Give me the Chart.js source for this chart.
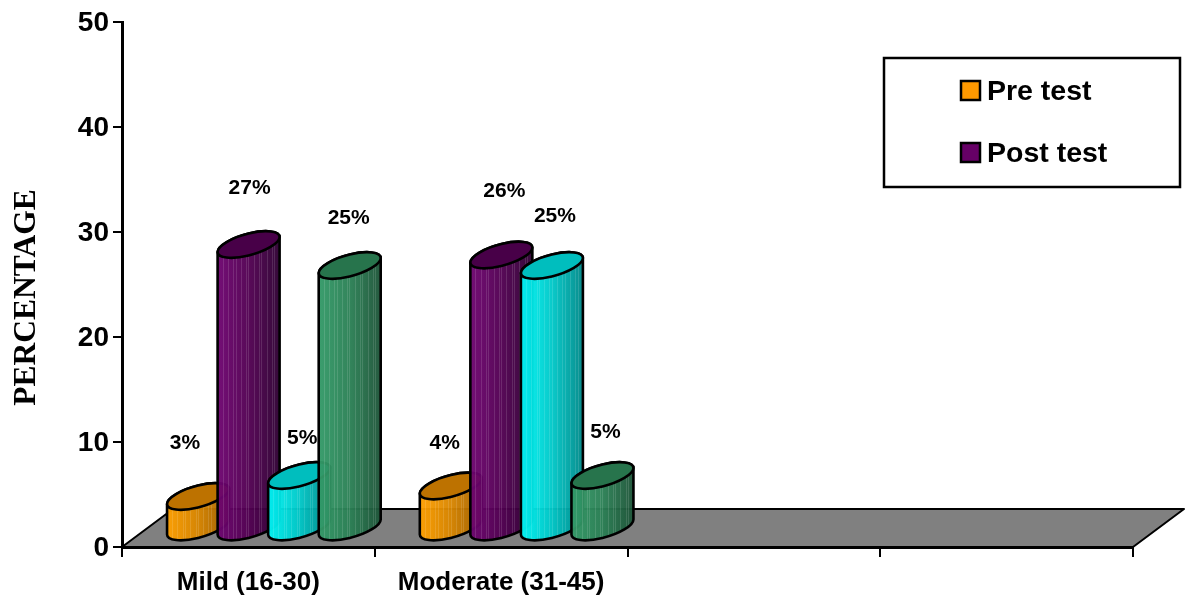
<!DOCTYPE html>
<html>
<head>
<meta charset="utf-8">
<title>Percentage by severity</title>
<script src="https://cdn.jsdelivr.net/npm/chart.js@4/dist/chart.umd.min.js"></script>
<style>
  html, body { margin: 0; padding: 0; background: #fff; }
  canvas { display: block; }
</style>
</head>
<body>
<canvas id="cylinderChart" width="1186" height="598"></canvas>
<script>
const categories = ["Mild (16-30)", "Moderate (31-45)", "", ""];
const preTest = [3, 4, null, null];
const postTest = [27, 26, null, null];
const thirdSeries = [5, 25, null, null];
const fourthSeries = [25, 5, null, null];
const legendNames = ["Pre test", "Post test"];
const yTicks = [0, 10, 20, 30, 40, 50];

const SANS = '"Liberation Sans", Arial, sans-serif';
const SERIF = '"Liberation Serif", "Times New Roman", serif';

// colours: wall left, wall middle, wall right, top cap
const palette = [
    { left: "#ffa000", mid: "#d98600", right: "#a06000", cap: "#bd7200" },
    { left: "#6e0470", mid: "#520052", right: "#2e0032", cap: "#480048" },
    { left: "#00f6f6", mid: "#00c8c8", right: "#008888", cap: "#00bebe" },
    { left: "#339a68", mid: "#2b8055", right: "#1d5438", cap: "#27744c" }
];

// floor depth, cylinders stand halfway back on it
const DEPTH_X = 51;
const DEPTH_Y = 38;
const RX = 31;
const RY = 11;
const SHEAR = -7.5 / 31;

// value label offsets from the centre of each cap, [dataset][category]
const labelNudge = [
    [[-13, -53], [-6, -43]],
    [[1, -56], [3, -64]],
    [[3, -37], [3, -49]],
    [[-1, -47], [3, -43]]
];

const capPath = (ctx, cx, cy) => {
    ctx.save();
    ctx.transform(1, SHEAR, 0, 1, cx, cy);
    ctx.beginPath();
    ctx.ellipse(0, 0, RX, RY, 0, 0, Math.PI * 2);
    ctx.restore();
};

const wallPath = (ctx, cx, top, bottom) => {
    ctx.save();
    ctx.beginPath();
    ctx.moveTo(cx - RX, top - SHEAR * RX);
    ctx.lineTo(cx - RX, bottom - SHEAR * RX);
    ctx.transform(1, SHEAR, 0, 1, cx, bottom);
    ctx.ellipse(0, 0, RX, RY, 0, Math.PI, 0, true);
    ctx.restore();
    ctx.lineTo(cx + RX, top + SHEAR * RX);
    ctx.save();
    ctx.transform(1, SHEAR, 0, 1, cx, top);
    ctx.ellipse(0, 0, RX, RY, 0, 0, Math.PI, true);
    ctx.restore();
    ctx.closePath();
};

const drawCylinder = (ctx, cx, top, bottom, colors) => {
    ctx.save();
    ctx.globalAlpha = 0.96;
    wallPath(ctx, cx, top, bottom);
    const grad = ctx.createLinearGradient(cx - RX, 0, cx + RX, 0);
    grad.addColorStop(0, colors.left);
    grad.addColorStop(0.5, colors.mid);
    grad.addColorStop(1, colors.right);
    ctx.fillStyle = grad;
    ctx.fill();

    // thin pale pinstripes on the wall
    ctx.save();
    ctx.clip();
    ctx.strokeStyle = "rgba(255,255,255,0.13)";
    ctx.lineWidth = 1;
    for (let i = 0; i < 14; i++) {
        const sx = Math.round(cx - RX + 5 + i * 4.3 + (i % 3)) + 0.5;
        ctx.beginPath();
        ctx.moveTo(sx, top - 20);
        ctx.lineTo(sx, bottom + 20);
        ctx.stroke();
    }
    ctx.restore();

    ctx.globalAlpha = 1;
    ctx.strokeStyle = "#000";
    ctx.lineWidth = 2.6;
    wallPath(ctx, cx, top, bottom);
    ctx.stroke();
    capPath(ctx, cx, top);
    ctx.fillStyle = colors.cap;
    ctx.fill();
    ctx.stroke();
    ctx.restore();
};

// grey slab behind the bars
const floorPlugin = {
    id: "floor",
    afterLayout(chart) {
        // sit the y tick numbers a little lower against their tick marks
        chart.scales.y.getLabelItems().forEach((item) => { item.options.translation[1] += 1.5; });
    },
    beforeDraw(chart) {
        const { ctx, chartArea: a } = chart;
        ctx.save();
        ctx.beginPath();
        ctx.moveTo(a.left, a.bottom);
        ctx.lineTo(a.left + DEPTH_X, a.bottom - DEPTH_Y);
        ctx.lineTo(a.right + DEPTH_X, a.bottom - DEPTH_Y);
        ctx.lineTo(a.right, a.bottom);
        ctx.closePath();
        ctx.fillStyle = "#808080";
        ctx.fill();
        ctx.strokeStyle = "#000";
        ctx.lineWidth = 2;
        ctx.lineJoin = "round";
        ctx.stroke();
        ctx.restore();
    }
};

// cylinders take their place from the bar elements, then the value labels go on top
const cylinderPlugin = {
    id: "cylinders",
    afterDatasetsDraw(chart) {
        const { ctx } = chart;
        categories.forEach((_, c) => {
            chart.data.datasets.forEach((ds, d) => {
                if (ds.data[c] == null) return;
                const bar = chart.getDatasetMeta(d).data[c];
                drawCylinder(ctx, bar.x + DEPTH_X / 2, bar.y - DEPTH_Y / 2, bar.base - DEPTH_Y / 2, palette[d]);
            });
        });
        ctx.save();
        ctx.fillStyle = "#000";
        ctx.font = `bold 21px ${SANS}`;
        ctx.textAlign = "center";
        ctx.textBaseline = "middle";
        categories.forEach((_, c) => {
            chart.data.datasets.forEach((ds, d) => {
                if (ds.data[c] == null) return;
                const bar = chart.getDatasetMeta(d).data[c];
                const [dx, dy] = labelNudge[d][c];
                ctx.fillText(`${ds.data[c]}%`, bar.x + DEPTH_X / 2 + dx, bar.y - DEPTH_Y / 2 + dy);
            });
        });
        ctx.restore();
    }
};

// boxed legend in the top right and the rotated axis title
const annotations = {
    id: "annotations",
    afterDraw(chart) {
        const { ctx } = chart;
        ctx.save();
        ctx.strokeStyle = "#000";
        ctx.lineWidth = 2.5;
        ctx.strokeRect(884, 58, 296, 129);
        ctx.font = `bold 28.5px ${SANS}`;
        ctx.textBaseline = "middle";
        ctx.textAlign = "left";
        legendNames.forEach((name, i) => {
            const y = 91 + i * 62;
            ctx.fillStyle = i === 0 ? "#ff9900" : "#660066";
            ctx.fillRect(961, y - 10, 19, 19);
            ctx.strokeRect(961, y - 10, 19, 19);
            ctx.fillStyle = "#000";
            ctx.fillText(name, 987, y + 1);
        });
        ctx.translate(26, 297.5);
        ctx.rotate(-Math.PI / 2);
        ctx.textAlign = "center";
        ctx.font = `bold 31.5px ${SERIF}`;
        ctx.fillText("PERCENTAGE", 0, 1);
        ctx.restore();
    }
};

new Chart(document.getElementById("cylinderChart"), {
    type: "bar",
    data: {
        labels: categories,
        datasets: [preTest, postTest, thirdSeries, fourthSeries].map((data, i) => ({
            label: legendNames[i] || "",
            data,
            backgroundColor: "transparent",
            borderWidth: 0,
            categoryPercentage: 0.8,
            barPercentage: 1
        }))
    },
    options: {
        responsive: false,
        animation: false,
        layout: { padding: { top: 22, right: 53, bottom: 0, left: 0 } },
        plugins: { legend: { display: false }, tooltip: { enabled: false } },
        scales: {
            x: {
                afterFit: (scale) => { scale.height = 51; },
                border: { color: "#000", width: 3 },
                grid: { drawOnChartArea: false, color: "#000", lineWidth: 2, tickLength: 10 },
                ticks: { color: "#000", font: { family: SANS, size: 26, weight: "bold" }, padding: 10, maxRotation: 0, autoSkip: false }
            },
            y: {
                min: 0,
                max: 50,
                afterFit: (scale) => { scale.width = 122; },
                afterBuildTicks: (scale) => { scale.ticks = yTicks.map((value) => ({ value })); },
                border: { color: "#000", width: 3 },
                grid: { drawOnChartArea: false, color: "#000", lineWidth: 2, tickLength: 9 },
                ticks: { color: "#000", font: { family: SANS, size: 28, weight: "bold" }, padding: 4 }
            }
        }
    },
    plugins: [floorPlugin, cylinderPlugin, annotations]
});
</script>
</body>
</html>
